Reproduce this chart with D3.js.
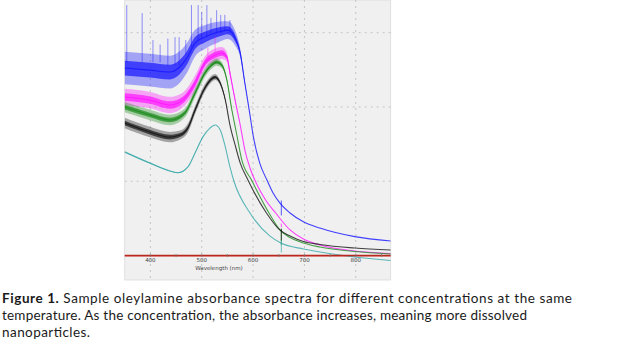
<!DOCTYPE html>
<html>
<head>
<meta charset="utf-8">
<script src="https://cdnjs.cloudflare.com/ajax/libs/d3/7.8.5/d3.min.js"></script>
<style>
    body { margin: 0; background: #fff; }
    svg { display: block; }
</style>
</head>
<body>
<svg id="chart" width="641" height="353"></svg>
<script>

// tick labels and grid values
const wavelengthTicks = [400, 500, 600, 700, 800];
const minorTicks = [450, 550, 650, 750, 850];
const absorbanceGrid = [0.5, 1.0, 1.5];

// spectra: [wavelength (nm), absorbance, half-width of the noise band]
const blueSpectrum = [
    [350, 1.262, 0.11], [399, 1.248, 0.11], [438, 1.235, 0.11], [471, 1.329, 0.10],
    [487, 1.430, 0.09], [506, 1.470, 0.08], [532, 1.504, 0.07], [551, 1.517, 0.06],
    [565, 1.464, 0.05], [575, 1.363, 0.03], [584, 1.161, 0.01], [594, 0.945, 0.0],
    [600, 0.810, 0], [613, 0.622, 0], [627, 0.508, 0], [639, 0.421, 0], [652, 0.354, 0],
    [672, 0.286, 0], [698, 0.227, 0], [730, 0.185, 0], [798, 0.127, 0], [868, 0.098, 0]
];
const magentaSpectrum = [
    [350, 1.067, 0.055], [399, 1.046, 0.055], [438, 1.013, 0.055], [463, 1.046, 0.05],
    [487, 1.161, 0.05], [506, 1.295, 0.045], [526, 1.349, 0.045], [539, 1.363, 0.04],
    [549, 1.336, 0.03], [555, 1.228, 0.02], [565, 1.046, 0.01], [575, 0.878, 0],
    [584, 0.710, 0], [594, 0.589, 0], [606, 0.488, 0], [625, 0.370, 0], [644, 0.286, 0],
    [672, 0.172, 0], [698, 0.111, 0], [730, 0.071, 0], [798, 0.030, 0], [868, 0.013, 0]
];
const greenSpectrum = [
    [350, 0.999, 0.035], [399, 0.946, 0.035], [438, 0.912, 0.035], [467, 0.959, 0.03],
    [487, 1.094, 0.03], [506, 1.228, 0.028], [519, 1.282, 0.027], [529, 1.302, 0.025],
    [539, 1.282, 0.02], [549, 1.181, 0.012], [558, 0.993, 0.005], [568, 0.818, 0],
    [578, 0.643, 0], [597, 0.508, 0], [631, 0.286, 0], [654, 0.165, 0], [672, 0.121, 0],
    [698, 0.084, 0], [730, 0.057, 0], [798, 0.027, 0], [868, 0.010, 0]
];
const blackSpectrum = [
    [350, 0.892, 0.035], [399, 0.831, 0.035], [438, 0.797, 0.035], [458, 0.811, 0.03],
    [473, 0.858, 0.03], [487, 0.979, 0.028], [506, 1.127, 0.025], [519, 1.188, 0.022],
    [526, 1.201, 0.02], [536, 1.161, 0.015], [546, 1.046, 0.008], [555, 0.878, 0],
    [565, 0.744, 0], [575, 0.622, 0], [590, 0.508, 0], [626, 0.286, 0], [652, 0.172, 0],
    [672, 0.131, 0], [698, 0.094, 0], [730, 0.074, 0], [798, 0.050, 0], [868, 0.037, 0]
];
const cyanSpectrum = [
    [350, 0.697, 0.006], [399, 0.622, 0.005], [438, 0.569, 0.004], [454, 0.557, 0.004],
    [473, 0.596, 0.003], [487, 0.690, 0.003], [502, 0.797, 0.002], [516, 0.858, 0],
    [526, 0.878, 0], [536, 0.845, 0], [546, 0.730, 0], [555, 0.596, 0], [562, 0.508, 0],
    [594, 0.286, 0], [633, 0.130, 0], [654, 0.084, 0], [698, 0.044, 0], [730, 0.024, 0],
    [798, -0.010, 0], [868, -0.034, 0]
];

// tall single-point spikes in the noisy spectra: [wavelength, bottom, top]
const blueSpikes = [
    [354, 1.30, 1.686], [384, 1.30, 1.632], [405, 1.30, 1.45], [419, 1.30, 1.42],
    [434, 1.28, 1.46], [448, 1.28, 1.47], [456, 1.28, 1.47], [469, 1.35, 1.45],
    [480, 1.40, 1.686], [493, 1.45, 1.686], [500, 1.46, 1.64], [510, 1.47, 1.686],
    [518, 1.50, 1.60], [529, 1.50, 1.652], [537, 1.50, 1.62], [545, 1.51, 1.62], [555, 1.50, 1.585]
];
const magentaSpikes = [[526, 1.36, 1.47], [512, 1.33, 1.40]];

// detector change-over glitch near 655 nm: [wavelength, from, to]
const blueGlitch = [[655, 0.37, 0.27]];
const magentaGlitch = [[655, 0.215, 0.19]];
const greenGlitch = [[655, 0.18, 0.07]];
const blackGlitch = [[655, 0.18, 0.10]];
const cyanGlitch = [[655, 0.105, 0.02]];

// caption: [bold part, plain part, right edge of the line in the figure]
const captionLines = [
    ["Figure 1.", " Sample oleylamine absorbance spectra for different concentrations at the same", 572],
    ["", "temperature.  As the concentration, the absorbance increases, meaning more dissolved", 527],
    ["", "nanoparticles.", 90]
];

let series = [
    {color: "#1414ff", data: blueSpectrum, spikes: blueSpikes, glitch: blueGlitch},
    {color: "#ff14ff", data: magentaSpectrum, spikes: magentaSpikes, glitch: magentaGlitch},
    {color: "#1b8a1b", data: greenSpectrum, spikes: [], glitch: greenGlitch},
    {color: "#141414", data: blackSpectrum, spikes: [], glitch: blackGlitch},
    {color: "#34a8a8", data: cyanSpectrum, spikes: [], glitch: cyanGlitch}
];

let svg = d3.select("#chart");

let panel = {left: 124.7, right: 390.7, top: 0, bottom: 280};

let xScale = d3.scaleLinear().domain([350, 868]).range([panel.left, panel.right]);
let yScale = d3.scaleLinear().domain([-0.165, 1.72]).range([panel.bottom, panel.top]);

svg.append("rect")
    .attr("x", panel.left)
    .attr("y", panel.top)
    .attr("width", panel.right - panel.left)
    .attr("height", panel.bottom - panel.top)
    .attr("fill", "#f0f0f0")
    .attr("stroke", "#dadada")
    .attr("stroke-width", 0.8);

svg.append("clipPath").attr("id", "plot-clip")
    .append("rect")
    .attr("x", panel.left)
    .attr("y", panel.top)
    .attr("width", panel.right - panel.left)
    .attr("height", panel.bottom - panel.top);

// dashed grid
svg.append("g").selectAll("line").data(wavelengthTicks).enter().append("line")
    .attr("x1", d => xScale(d)).attr("x2", d => xScale(d))
    .attr("y1", panel.top).attr("y2", panel.bottom)
    .attr("stroke", "#c4c4c4").attr("stroke-width", 1)
    .attr("stroke-dasharray", "2,4");

svg.append("g").selectAll("line").data(absorbanceGrid).enter().append("line")
    .attr("x1", panel.left).attr("x2", panel.right)
    .attr("y1", d => yScale(d)).attr("y2", d => yScale(d))
    .attr("stroke", "#c4c4c4").attr("stroke-width", 1)
    .attr("stroke-dasharray", "2,4");

// zero baseline shadow
let y0 = yScale(0);
svg.append("line")
    .attr("x1", panel.left).attr("x2", panel.right)
    .attr("y1", y0 + 1).attr("y2", y0 + 1)
    .attr("stroke", "#e8a0a0").attr("stroke-width", 1);

let plot = svg.append("g").attr("clip-path", "url(#plot-clip)");

let outerArea = d3.area()
    .x(d => xScale(d[0]))
    .y0(d => yScale(d[1] - d[2]))
    .y1(d => yScale(d[1] + d[2]))
    .curve(d3.curveMonotoneX);

let innerArea = d3.area()
    .x(d => xScale(d[0]))
    .y0(d => yScale(d[1] - d[2] * 0.45))
    .y1(d => yScale(d[1] + d[2] * 0.45))
    .curve(d3.curveMonotoneX);

let line = d3.line()
    .x(d => xScale(d[0]))
    .y(d => yScale(d[1]))
    .curve(d3.curveMonotoneX);

series.forEach(function(s) {
    let g = plot.append("g");

    g.selectAll("line.spike").data(s.spikes).enter().append("line")
        .attr("class", "spike")
        .attr("x1", d => xScale(d[0])).attr("x2", d => xScale(d[0]))
        .attr("y1", d => yScale(d[1])).attr("y2", d => yScale(d[2]))
        .attr("stroke", s.color).attr("stroke-opacity", 0.45).attr("stroke-width", 1);

    g.append("path").datum(s.data)
        .attr("d", outerArea)
        .attr("fill", s.color).attr("fill-opacity", 0.35);

    g.append("path").datum(s.data)
        .attr("d", innerArea)
        .attr("fill", s.color).attr("fill-opacity", 0.7);

    g.append("path").datum(s.data)
        .attr("d", line)
        .attr("fill", "none")
        .attr("stroke", s.color).attr("stroke-opacity", 0.8)
        .attr("stroke-width", 1.1);

    g.selectAll("line.glitch").data(s.glitch).enter().append("line")
        .attr("class", "glitch")
        .attr("x1", d => xScale(d[0])).attr("x2", d => xScale(d[0]))
        .attr("y1", d => yScale(d[1])).attr("y2", d => yScale(d[2]))
        .attr("stroke", s.color).attr("stroke-opacity", 0.7).attr("stroke-width", 1);
});

svg.append("line")
    .attr("x1", panel.left).attr("x2", panel.right)
    .attr("y1", y0).attr("y2", y0)
    .attr("stroke", "#b8281e").attr("stroke-width", 1.3);

// x axis ticks on the baseline
svg.append("g").selectAll("line").data(wavelengthTicks.concat(minorTicks)).enter().append("line")
    .attr("x1", d => xScale(d)).attr("x2", d => xScale(d))
    .attr("y1", y0 - 1.5).attr("y2", y0 + 1.5)
    .attr("stroke", "#777").attr("stroke-width", 0.8);

svg.append("g").selectAll("text").data(wavelengthTicks).enter().append("text")
    .attr("x", d => xScale(d))
    .attr("y", y0 + 7)
    .attr("text-anchor", "middle")
    .style("font-family", "DejaVu Sans, sans-serif")
    .style("font-size", "5.5px")
    .attr("fill", "#444")
    .text(d => d);

svg.append("text")
    .attr("x", 219)
    .attr("y", y0 + 14.5)
    .attr("text-anchor", "middle")
    .style("font-family", "DejaVu Sans, sans-serif")
    .style("font-size", "5.5px")
    .attr("fill", "#444")
    .text("Wavelength (nm)");

// caption
let caption = svg.append("g");
captionLines.forEach(function(parts, i) {
    let t = caption.append("text")
        .attr("x", 2)
        .attr("y", 303 + i * 16.8)
        .attr("textLength", parts[2] - 2)
        .attr("lengthAdjust", "spacing")
        .style("font-family", "Lato, sans-serif")
        .style("font-size", "13.5px")
        .attr("fill", "#1a1a1a");
    if (parts[0]) {
        t.append("tspan").style("font-weight", "bold").text(parts[0]);
    }
    t.append("tspan").text(parts[1]);
});

</script>
</body>
</html>
